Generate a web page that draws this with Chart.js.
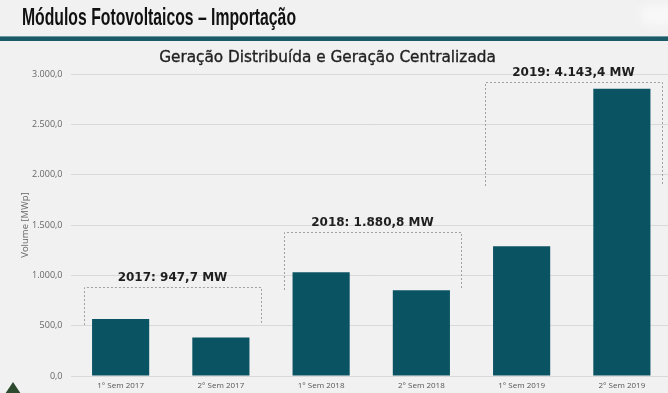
<!DOCTYPE html>
<html>
<head>
<meta charset="utf-8">
<script src="https://cdn.jsdelivr.net/npm/chart.js@4/dist/chart.umd.min.js"></script>
<style>
  html, body { margin: 0; padding: 0; width: 668px; height: 393px; overflow: hidden; background: #f1f1f1; }
  #title { position: absolute; left: 22px; top: 3px; font-family: "Liberation Sans", Arial, sans-serif; font-weight: bold; font-size: 24px; color: #111; white-space: nowrap; transform-origin: 0 0; }
  #rule { position: absolute; left: 0; top: 36px; width: 668px; height: 5px; background: #1b5a67; border-top: 1px solid #6b9aa3; box-sizing: border-box; }
  #subtitle { position: absolute; left: 0; width: 655px; top: 48px; text-align: center; font-family: "DejaVu Sans", sans-serif; font-size: 15.3px; color: #222; -webkit-text-stroke: 0.35px #222; }
  #wrap { position: absolute; left: 0; top: 0; width: 672px; height: 393px; }
  #tree { position: absolute; left: 5px; top: 382px; width: 0; height: 0; border-left: 8px solid transparent; border-right: 8px solid transparent; border-bottom: 12px solid #2d4a2f; }
  #glow { position: absolute; left: 642px; top: 5px; width: 40px; height: 20px; background: #f8f8f8; filter: blur(5px); }
</style>
</head>
<body>
<div id="wrap"><canvas id="c"></canvas></div>
<div id="glow"></div>
<div id="title">Módulos Fotovoltaicos – Importação</div>
<div id="rule"></div>
<div id="subtitle">Geração Distribuída e Geração Centralizada</div>
<div id="tree"></div>
<script>
const categories = ["1° Sem 2017", "2° Sem 2017", "1° Sem 2018", "2° Sem 2018", "1° Sem 2019", "2° Sem 2019"];
const volumes = [566, 382, 1030, 851, 1290, 2853];
const yTicks = [0, 500, 1000, 1500, 2000, 2500, 3000];
const groupLabels = ["2017: 947,7 MW", "2018: 1.880,8 MW", "2019: 4.143,4 MW"];
const groupStart = [0, 2, 4];
const groupEnd = [1, 3, 5];
const groupBoxTop = [884, 1430, 2920];
const groupBoxBottom = [506, 854, 1887];

// condense the header title to the reference width
(function () {
  const t = document.getElementById('title');
  const w = t.getBoundingClientRect().width;
  t.style.transform = 'scaleX(' + (274 / w) + ')';
})();

function fmt(v) {
  return v.toLocaleString('pt-BR', { minimumFractionDigits: 1, maximumFractionDigits: 1 });
}

const groupPlugin = {
  id: 'groups',
  afterDatasetsDraw(chart) {
    const ctx = chart.ctx, x = chart.scales.x, y = chart.scales.y;
    ctx.save();
    for (let i = 0; i < groupLabels.length; i++) {
      const l = Math.round(x.getPixelForValue(groupStart[i]) - 37);
      const r = Math.round(x.getPixelForValue(groupEnd[i]) + 40);
      const t = Math.round(y.getPixelForValue(groupBoxTop[i]));
      const b = y.getPixelForValue(groupBoxBottom[i]);
      ctx.strokeStyle = '#a0a0a0';
      ctx.lineWidth = 1;
      ctx.setLineDash([2, 2]);
      ctx.beginPath();
      ctx.moveTo(l + 0.5, b);
      ctx.lineTo(l + 0.5, t + 0.5);
      ctx.lineTo(r + 0.5, t + 0.5);
      ctx.lineTo(r + 0.5, b);
      ctx.stroke();
      ctx.setLineDash([]);
      ctx.fillStyle = '#1e1e1e';
      ctx.font = 'bold 12px "DejaVu Sans", sans-serif';
      ctx.textAlign = 'center';
      ctx.textBaseline = 'alphabetic';
      ctx.fillText(groupLabels[i], (l + r) / 2, t - 6);
    }
    ctx.restore();
  }
};

new Chart(document.getElementById('c'), {
  type: 'bar',
  data: {
    labels: categories,
    datasets: [{
      data: volumes,
      backgroundColor: '#0a5363',
      barPercentage: 0.57,
      categoryPercentage: 1.0
    }]
  },
  options: {
    responsive: true,
    maintainAspectRatio: false,
    animation: false,
    layout: { padding: { top: 74, left: 0, right: 0, bottom: 0 } },
    plugins: { legend: { display: false }, tooltip: { enabled: false } },
    scales: {
      x: {
        grid: { display: false, drawTicks: false },
        border: { display: false },
        ticks: { color: '#555', font: { family: '"Open Sans", sans-serif', size: 8 }, padding: 5, maxRotation: 0 },
        afterFit(s) { s.height = 17; }
      },
      y: {
        min: 0, max: 3000,
        afterBuildTicks(s) { s.ticks = yTicks.map(v => ({ value: v })); },
        grid: { color: '#d9d9d9', drawTicks: false, lineWidth: 1 },
        border: { display: false },
        ticks: { color: '#666', font: { family: '"Open Sans", sans-serif', size: 9 }, padding: 8, callback: v => fmt(v) },
        title: { display: true, text: 'Volume [MWp]', color: '#666', font: { family: '"Open Sans", sans-serif', size: 9.5 }, padding: { top: 20, bottom: 0 } },
        afterFit(s) { s.width = 70.5; }
      }
    }
  },
  plugins: [groupPlugin]
});
</script>
</body>
</html>
